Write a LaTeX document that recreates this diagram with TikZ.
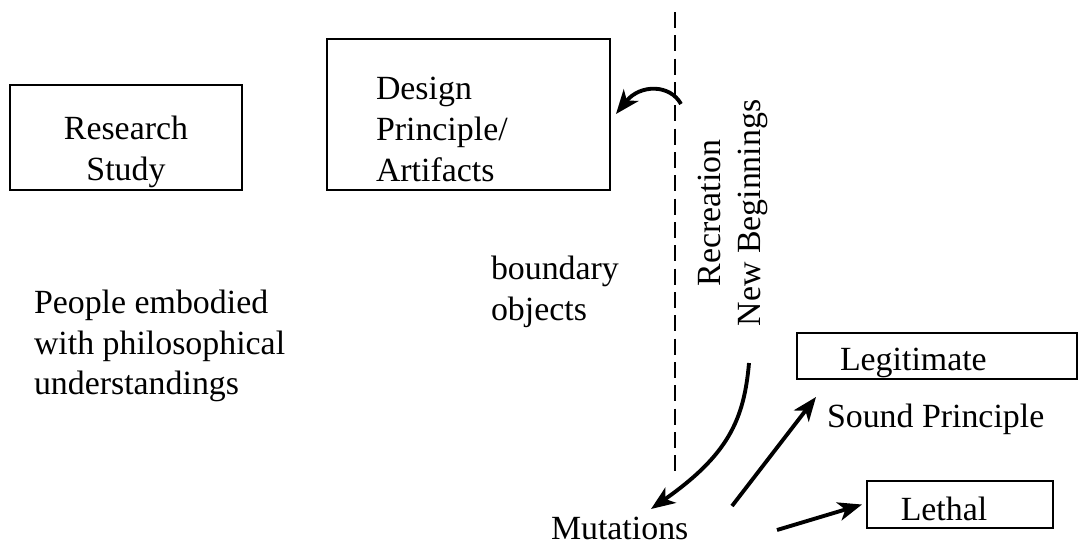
\documentclass[tikz,border=0pt]{standalone}
\usepackage{fontspec}
\setmainfont{Liberation Serif}
\usetikzlibrary{arrows.meta}
\begin{document}
\begin{tikzpicture}[x=0.75pt,y=-0.75pt,
  box/.style={draw,line width=0.9pt,inner sep=0pt,outer sep=0pt},
  txt/.style={inner sep=0pt,outer sep=0pt,font=\fontsize{25.4}{30.5}\selectfont},
  arr/.style={line width=2.9pt,-{Stealth[length=18pt,width=14pt,inset=5pt]}},
  dashline/.style={line width=2.1pt,dash pattern=on 12pt off 5.5pt}]
\useasboundingbox (0,0) rectangle (1078,544);
% boxes
\node[box,minimum width=174pt,minimum height=78.75pt] (rbox) at (126,137.5) {};
\node[box,minimum width=212.25pt,minimum height=113.25pt] (dbox) at (468.5,114.5) {};
\node[box,minimum width=210pt,minimum height=34.5pt] (lbox) at (937,356) {};
\node[box,minimum width=139.5pt,minimum height=35.25pt] (lethbox) at (960,504.5) {};
% texts
\node[txt,align=center] (research) at (126,152) {Research\\Study};
\node[txt,align=left,anchor=west] (design) at (376,129.5) {Design\\Principle/\\Artifacts};
\node[txt,align=left,anchor=west] (people) at (34,346) {People embodied\\with philosophical\\understandings};
\node[txt,align=left,anchor=west] (boundary) at (491,292) {boundary\\objects};
\node[txt,align=center,rotate=90] (recre) at (733,213) {Recreation\\New Beginnings};
\node[txt,anchor=base west] (legit) at (840,370) {Legitimate};
\node[txt,anchor=base west] (sound) at (827,427) {Sound Principle};
\node[txt,anchor=base] (lethal) at (944,520) {Lethal};
\node[txt,anchor=base west] (mut) at (551,539) {Mutations};
% dashed boundary
\coordinate (dtop) at (675,12);
\coordinate (dbot) at (675,478);
\draw[dashline] (dtop) -- (dbot);
% arrows
\coordinate (a1s) at (681,104);
\coordinate (a1e) at (616,114);
\draw[arr] (a1s) .. controls (670,84) and (640,84) .. (a1e);
\coordinate (a2s) at (749,363);
\coordinate (a2e) at (651,509);
\draw[arr] (a2s) .. controls (744,420) and (728,455) .. (a2e);
\coordinate (a3s) at (732,506);
\coordinate (a3e) at (816,397);
\draw[arr] (a3s) -- (a3e);
\coordinate (a4s) at (777,530);
\draw[arr] (a4s) -- ([xshift=-3.75pt]lethbox.west);
\end{tikzpicture}
\end{document}
